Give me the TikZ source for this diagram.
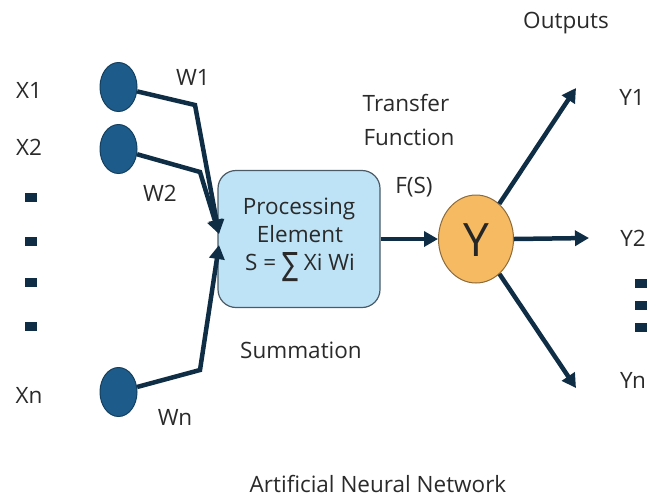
\documentclass[tikz,border=0pt]{standalone}
\usepackage{fontspec}
\setmainfont{Open Sans}
\newfontfamily\symfont{DejaVu Sans}
\usetikzlibrary{arrows.meta,shapes.geometric}
\definecolor{linec}{HTML}{0F2E45}
\definecolor{inc}{HTML}{1D5C8A}
\definecolor{incb}{HTML}{143F5F}
\definecolor{boxf}{HTML}{BEE3F6}
\definecolor{boxb}{HTML}{4A5A66}
\definecolor{yf}{HTML}{F5BA62}
\definecolor{yb}{HTML}{8C6A3A}
\definecolor{txt}{HTML}{2A2A2A}
\tikzset{
  lbl/.style={font=\fontsize{22.5}{26}\selectfont, text=txt, inner sep=0pt},
  conn/.style={draw=linec, line width=4.5pt, line join=miter},
  arr/.style={conn, -{Triangle[length=14pt,width=15pt]}},
  innode/.style={ellipse, minimum width=37pt, minimum height=49pt, fill=inc, draw=incb, line width=1pt, inner sep=0pt},
  dotsq/.style={fill=linec, minimum width=12pt, minimum height=9pt, inner sep=0pt},
}
\begin{document}
\begin{tikzpicture}[x=1pt,y=-1pt]
\useasboundingbox (0,0) rectangle (663,499);
% inputs
\node[innode] (c1) at (118.5,87) {};
\node[innode] (c2) at (118.5,149) {};
\node[innode] (cn) at (118.5,392) {};
\node[lbl] (x1) at (29,90) {X1};
\node[lbl] (x2) at (29,147) {X2};
\node[lbl] (xn) at (29,395) {Xn};
\node[dotsq] (ld1) at (31,197) {};
\node[dotsq] (ld2) at (31,241) {};
\node[dotsq] (ld3) at (31,282) {};
\node[dotsq] (ld4) at (31,326) {};
\node[lbl] (w1) at (193,77) {W1};
\node[lbl] (w2) at (160,193) {W2};
\node[lbl] (wn) at (175,417) {Wn};
% processing element
\node[draw=boxb, fill=boxf, line width=1.2pt, rounded corners=18pt, minimum width=162pt, minimum height=137pt, inner sep=0pt] (pe) at (299,239) {};
\node[lbl] (p1) at (299,209) {Processing};
\node[lbl] (p2) at (300,234) {Element};
\node[lbl] (p3) at (300,267) {S = \raisebox{-5pt}{\resizebox{16pt}{23pt}{\symfont\char"2211}} Xi Wi};
\node[lbl] (sum) at (301,350) {Summation};
% connectors in
\coordinate (b1) at (195,105);
\coordinate (b2) at (200,172);
\coordinate (bn) at (200,370);
\coordinate (t1) at (219,234);
\coordinate (tn) at (219,245);
\draw[arr] (c1) -- (b1) -- (t1);
\draw[arr] (c2) -- (b2) -- (t1);
\draw[arr] (cn) -- (bn) -- (tn);
% transfer
\node[lbl] (tr1) at (406,103) {Transfer};
\node[lbl] (tr2) at (409,137) {Function};
\node[lbl] (fs) at (414,187) {F(S)};
\node[ellipse, fill=yf, draw=yb, line width=1pt, minimum width=75pt, minimum height=88pt, inner sep=0pt] (y) at (476,239) {};
\node[font=\fontsize{46}{52}\selectfont, text=black!85, inner sep=0pt] (ylbl) at (476,240) {Y};
\draw[arr] (pe.east |- y) -- (y.west);
% outputs
\node[lbl] (out) at (566,23) {Outputs};
\node[lbl] (y1) at (632,97) {Y1};
\node[lbl] (y2) at (633,238) {Y2};
\node[lbl] (yn) at (633,380) {Yn};
\node[dotsq] (rd1) at (641,283) {};
\node[dotsq] (rd2) at (641,305) {};
\node[dotsq] (rd3) at (641,327) {};
\coordinate (o1) at (576,88);
\coordinate (o2) at (589,238);
\coordinate (on) at (576,388);
\draw[arr] (y) -- (o1);
\draw[arr] (y.east) -- (o2);
\draw[arr] (y) -- (on);
\node[lbl] (title) at (378,484) {Artificial Neural Network};
\end{tikzpicture}
\end{document}
